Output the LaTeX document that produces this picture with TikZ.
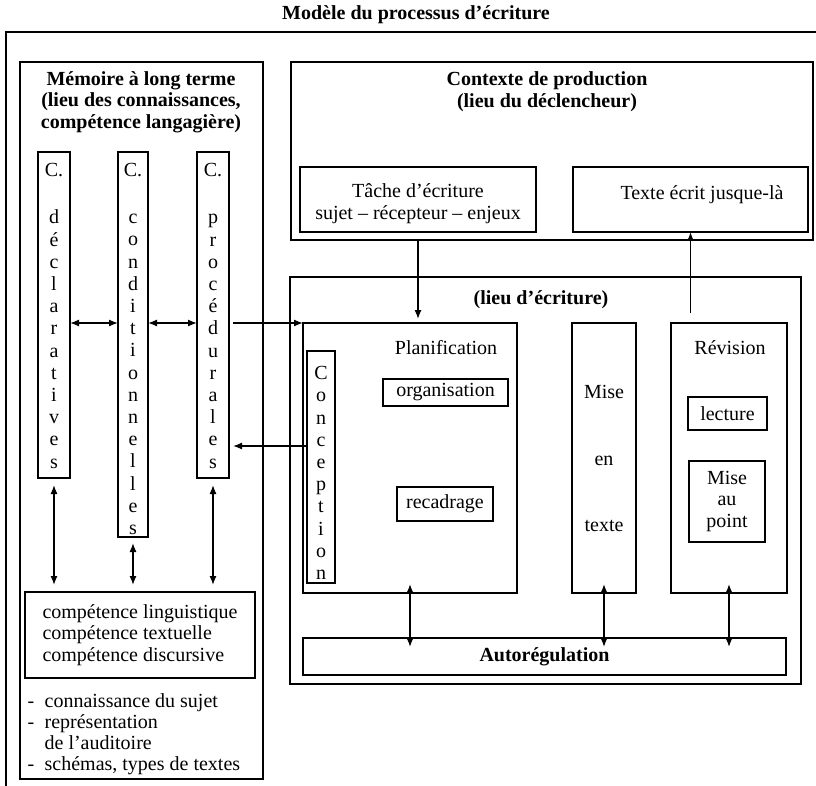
\documentclass[tikz,border=0pt]{standalone}
\usepackage{fontspec}
\setmainfont{Liberation Serif}
\usetikzlibrary{arrows.meta,calc}
\begin{document}
\begin{tikzpicture}[x=1pt,y=-1pt,
  box/.style={draw, line width=1.3pt, inner sep=0pt, outer sep=0pt},
  txt/.style={font=\fontsize{20}{21.7}\selectfont, inner sep=0pt, align=center},
  btxt/.style={font=\fontsize{20}{21.7}\selectfont\bfseries, inner sep=0pt, align=center},
  coltxt/.style={font=\fontsize{20}{22.2}\selectfont, inner sep=0pt, align=center},
  arr/.style={line width=1.3pt, -{Latex[length=9pt,width=7pt]}},
  darr/.style={line width=1.3pt, {Latex[length=9pt,width=7pt]}-{Latex[length=9pt,width=7pt]}},
]
\useasboundingbox (0,0) rectangle (816,786);

% outer frame (cut by the page edge)
\coordinate (fbl) at (6,786);
\coordinate (ftl) at (6,32);
\coordinate (ftr) at (816,32);
\draw[line width=1.6pt] (fbl) -- (ftl) -- (ftr);

\node[btxt] (title) at (416,15) {Modèle du processus d’écriture};

% ---------- long-term memory ----------
\node[box, minimum width=243, minimum height=717] (mem) at (141.5,420.5) {};
\node[btxt] (memtitle) at (141,102) {Mémoire à long terme\\(lieu des connaissances,\\compétence langagière)};

\node[box, minimum width=32, minimum height=326] (decl) at (54,315) {};
\node[coltxt] (decltxt) at (54,316) {C.\\[24.8pt]d\\é\\c\\l\\a\\r\\a\\t\\i\\v\\e\\s};

\node[box, minimum width=30, minimum height=385] (cond) at (133,344.5) {};
\node[coltxt] (condtxt) at (133,349) {C.\\[24.8pt]c\\o\\n\\d\\i\\t\\i\\o\\n\\n\\e\\l\\l\\e\\s};

\node[box, minimum width=32, minimum height=326] (proc) at (213,315) {};
\node[coltxt] (proctxt) at (213,316) {C.\\[24.8pt]p\\r\\o\\c\\é\\d\\u\\r\\a\\l\\e\\s};

\node[box, txt, align=left, minimum width=230, minimum height=86] (comp) at (140,635)
  {compétence linguistique\\compétence textuelle\\compétence discursive};

\node[txt, anchor=north west, font=\fontsize{20}{21}\selectfont] (list) at (27.5,693)
  {\begin{tabular}{@{}l@{\hspace{10.3pt}}l@{}}-&connaissance du sujet\\-&représentation\\&de l’auditoire\\-&schémas, types de textes\end{tabular}};

% ---------- production context ----------
\node[box, minimum width=522, minimum height=178] (ctx) at (552,151) {};
\node[btxt] (ctxtitle) at (547,91.5) {Contexte de production\\(lieu du déclencheur)};

\node[box, minimum width=236, minimum height=65] (tache) at (418,199.5) {};
\node[txt] (tachetxt) at (418,204) {Tâche d’écriture\\sujet – récepteur – enjeux};

\node[box, minimum width=235, minimum height=65] (texte) at (690.5,199.5) {};
\node[txt] (textetxt) at (702,195) {Texte écrit jusque-là};

% ---------- writing place ----------
\node[box, minimum width=511, minimum height=407] (lieu) at (545.5,480.5) {};
\node[btxt] (lieutitle) at (541,300) {(lieu d’écriture)};

\node[box, minimum width=214, minimum height=270] (planif) at (410,458) {};
\node[txt] (planiftxt) at (446,348) {Planification};
\node[box, txt, minimum width=125, minimum height=27] (orga) at (445.5,392.5) {organisation};
\node[box, txt, minimum width=96, minimum height=34] (recad) at (445,504) {recadrage};

\node[box, minimum width=28, minimum height=232] (conc) at (321,467) {};
\node[coltxt] (conctxt) at (321,473) {C\\o\\n\\c\\e\\p\\t\\i\\o\\n};

\node[box, minimum width=64, minimum height=270] (mise) at (604,458) {};
\node[txt] (misetxt) at (604,458.5) {Mise\\[44.8pt]en\\[44.8pt]texte};

\node[box, minimum width=116, minimum height=270] (rev) at (729,458) {};
\node[txt] (revtxt) at (730,348) {Révision};
\node[box, txt, minimum width=79, minimum height=33] (lect) at (727.5,413.5) {lecture};
\node[box, txt, minimum width=76, minimum height=81] (point) at (727,501.5) {Mise\\au\\point};

\node[box, btxt, minimum width=483, minimum height=37] (auto) at (544.5,656.5) {Autorégulation};

% ---------- connectors ----------
\coordinate (y323) at (0,323);
\coordinate (y446) at (0,446);
\draw[darr] (decl.east |- y323) -- (cond.west |- y323);
\draw[darr] (cond.east |- y323) -- (proc.west |- y323);
\draw[arr, shorten <=4pt] (proc.east |- y323) -- (planif.west |- y323);
\draw[arr, shorten >=4pt] (conc.west |- y446) -- (proc.east |- y446);

\draw[darr, shorten <=7pt, shorten >=7pt] (decl.south) -- (decl.south |- comp.north);
\draw[darr, shorten <=6pt, shorten >=7pt] (cond.south) -- (cond.south |- comp.north);
\draw[darr, shorten <=7pt, shorten >=7pt] (proc.south) -- (proc.south |- comp.north);

\draw[arr, shorten >=4pt] (tache.south |- ctx.south) -- (tache.south |- planif.north);
\draw[arr] ($(texte.south |- rev.north)+(0,-10)$) -- (texte.south);

\draw[darr, shorten <=-9pt, shorten >=-9pt] (planif.south) -- (planif.south |- auto.north);
\draw[darr, shorten <=-9pt, shorten >=-9pt] (mise.south) -- (mise.south |- auto.north);
\draw[darr, shorten <=-9pt, shorten >=-9pt] (rev.south) -- (rev.south |- auto.north);
\end{tikzpicture}
\end{document}
